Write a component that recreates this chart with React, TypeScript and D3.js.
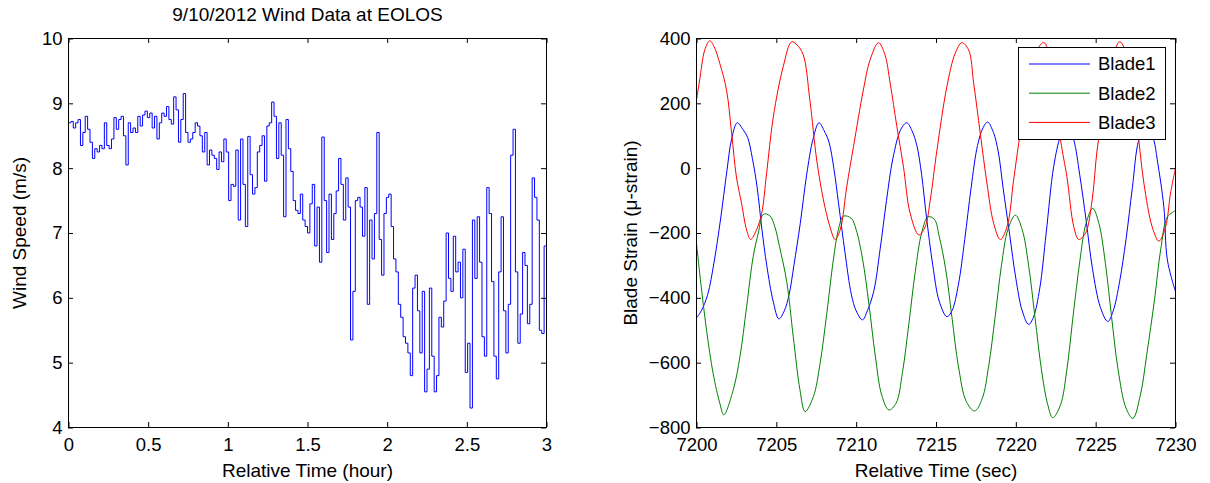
import React, { useEffect, useRef } from 'react';
import * as d3 from 'd3';

// wind speed, sampled every 0.015 hour from t = 0
const windStep = 0.015;
const windSpeed = [
  8.70, 8.72, 8.62, 8.70, 8.75, 8.35, 8.55, 8.80, 8.60, 8.40,
  8.15, 8.30, 8.25, 8.35, 8.30, 8.70, 8.35, 8.30, 8.45, 8.78,
  8.60, 8.75, 8.80, 8.50, 8.05, 8.70, 8.55, 8.62, 8.55, 8.80,
  8.65, 8.82, 8.88, 8.78, 8.85, 8.62, 8.80, 8.45, 8.70, 8.85,
  8.80, 8.95, 8.75, 8.68, 9.10, 8.90, 8.40, 8.75, 9.15, 8.55,
  8.40, 8.45, 8.55, 8.70, 8.65, 8.50, 8.25, 8.55, 8.05, 8.28,
  8.20, 8.15, 7.98, 8.25, 8.10, 8.45, 8.25, 7.50, 7.75, 7.72,
  8.28, 7.20, 8.45, 7.75, 7.10, 8.49, 7.90, 7.60, 7.70, 8.25,
  8.35, 8.50, 7.80, 8.65, 8.70, 9.02, 8.80, 8.15, 8.70, 8.20,
  7.25, 8.75, 8.30, 7.95, 7.50, 7.35, 7.30, 7.60, 7.20,
  7.10, 7.00, 7.45, 7.75, 6.80, 7.40, 6.55, 8.48, 7.50, 6.70,
  7.60, 6.90, 7.30, 7.65, 8.15, 7.75, 7.20, 7.85, 7.40, 5.35,
  6.10, 7.50, 7.55, 7.40, 6.95, 7.70, 5.90, 7.20, 6.60, 7.30,
  8.55, 6.90, 6.35, 7.30, 7.55, 7.60, 7.10, 6.60, 6.40, 5.90,
  5.70, 5.40, 5.30, 5.15, 4.80, 6.15, 6.35, 5.80, 5.15, 6.10,
  4.55, 4.90, 6.15, 5.10, 4.55, 4.80, 5.70, 5.55, 5.95, 7.00,
  6.30, 6.10, 6.95, 6.40, 6.55, 6.00, 6.75, 4.85, 5.30, 4.30,
  7.20, 6.30, 7.25, 6.55, 5.40, 5.10, 7.70, 7.30, 6.25, 5.10,
  4.75, 6.40, 7.25, 5.80, 5.15, 5.90, 8.20, 8.60, 6.40, 5.30,
  5.75, 6.70, 6.50, 5.60, 5.90, 7.85, 7.55, 7.20, 5.50, 5.45,
  6.80, 6.45,
];

// blade strain [sec, micro-strain]
const blade1 = [
  [7200.0, -462], [7200.3, -440], [7200.7, -390], [7201.1, -290], [7201.5, -160],
  [7201.9, -10], [7202.2, 90], [7202.55, 140], [7202.9, 120], [7203.2, 95],
  [7203.5, 30], [7203.8, -60], [7204.1, -190], [7204.4, -300], [7204.8, -410],
  [7205.16, -465], [7205.5, -440], [7205.8, -390], [7206.1, -300], [7206.5, -170],
  [7206.9, -20], [7207.3, 90], [7207.67, 140], [7208.0, 115], [7208.3, 80],
  [7208.6, 0], [7208.9, -110], [7209.3, -260], [7209.7, -390], [7210.0, -440],
  [7210.39, -468], [7210.7, -440], [7211.1, -380], [7211.5, -250], [7211.9, -100],
  [7212.3, 30], [7212.8, 120], [7213.17, 140], [7213.5, 115], [7213.8, 70],
  [7214.1, -20], [7214.4, -150], [7214.8, -300], [7215.2, -410], [7215.68, -458],
  [7216.0, -440], [7216.4, -360], [7216.8, -220], [7217.2, -60], [7217.6, 70],
  [7217.95, 125], [7218.23, 142], [7218.6, 110], [7218.9, 50], [7219.2, -60],
  [7219.6, -200], [7220.0, -340], [7220.4, -440], [7220.8, -482], [7221.1, -460],
  [7221.5, -370], [7221.9, -200], [7222.37, 5], [7222.8, 100], [7223.2, 140],
  [7223.63, 87], [7224.0, -20], [7224.4, -160], [7224.8, -310], [7225.3, -430],
  [7225.76, -473], [7226.1, -440], [7226.5, -350], [7226.9, -220], [7227.3, -60],
  [7227.7, 87], [7228.2, 140], [7228.64, 87], [7228.86, 25], [7229.27, -119],
  [7229.49, -283], [7230.0, -381],
];

const blade2 = [
  [7200.0, -232], [7200.2, -324], [7200.63, -500], [7201.04, -633], [7201.46, -725],
  [7201.71, -761], [7202.3, -684], [7202.72, -582], [7203.14, -427], [7203.55, -273],
  [7203.87, -200], [7204.2, -142], [7204.6, -147], [7204.9, -180], [7205.2, -242],
  [7205.65, -350], [7206.06, -520], [7206.48, -684], [7206.8, -751], [7207.32, -705],
  [7207.74, -602], [7208.16, -448], [7208.57, -283], [7208.88, -191], [7209.2, -148],
  [7209.7, -155], [7210.0, -190], [7210.4, -280], [7210.8, -420], [7211.2, -580],
  [7211.6, -700], [7212.05, -746], [7212.5, -725], [7212.9, -630], [7213.3, -480],
  [7213.7, -320], [7214.1, -200], [7214.5, -150], [7214.9, -158], [7215.2, -210],
  [7215.6, -310], [7216.0, -460], [7216.4, -610], [7216.9, -720], [7217.42, -749],
  [7217.9, -710], [7218.3, -610], [7218.7, -460], [7219.1, -300], [7219.5, -190],
  [7219.97, -145], [7220.4, -190], [7220.8, -300], [7221.2, -460], [7221.6, -620],
  [7222.0, -730], [7222.31, -770], [7222.8, -730], [7223.2, -620], [7223.6, -450],
  [7224.0, -290], [7224.4, -170], [7224.82, -124], [7225.2, -170], [7225.6, -290],
  [7226.0, -460], [7226.4, -620], [7226.9, -740], [7227.33, -772], [7227.8, -700],
  [7228.2, -575], [7228.7, -400], [7229.07, -252], [7229.5, -150], [7230.0, -131],
];

const blade3 = [
  [7200.0, 210], [7200.2, 272], [7200.52, 365], [7200.83, 393], [7201.1, 375],
  [7201.46, 323], [7201.88, 241], [7202.2, 108], [7202.5, -27], [7202.82, -108],
  [7203.14, -191], [7203.39, -220], [7203.76, -190], [7204.08, -140], [7204.39, -16],
  [7204.81, 158], [7205.43, 313], [7205.96, 390], [7206.3, 380], [7206.69, 349],
  [7207.1, 210], [7207.53, 25], [7207.95, -98], [7208.36, -181], [7208.68, -220],
  [7209.0, -190], [7209.41, -57], [7209.83, 66], [7210.45, 241], [7210.87, 334],
  [7211.4, 387], [7211.8, 350], [7212.13, 262], [7212.55, 128], [7212.96, 5],
  [7213.38, -139], [7213.93, -206], [7214.32, -181], [7214.64, -98], [7215.06, 56],
  [7215.68, 251], [7216.2, 354], [7216.62, 387], [7217.04, 365], [7217.36, 262],
  [7217.77, 108], [7218.19, -46], [7218.61, -170], [7219.03, -220], [7219.45, -181],
  [7219.86, -37], [7220.18, 77], [7220.7, 250], [7221.2, 350], [7221.74, 388],
  [7222.2, 330], [7222.8, 87], [7223.2, -27], [7223.63, -181], [7223.94, -220],
  [7224.36, -201], [7224.78, -98], [7225.09, 56], [7225.6, 220], [7226.0, 330],
  [7226.51, 390], [7227.0, 340], [7227.4, 210], [7227.7, 87], [7228.02, -46],
  [7228.54, -181], [7228.96, -225], [7229.38, -181], [7229.69, -77], [7230.0, 0],
];

const bladeNames = ['Blade1', 'Blade2', 'Blade3'];
const bladeColors = ['#0000ff', '#008000', '#ff0000'];

const windTicksX = [0, 0.5, 1, 1.5, 2, 2.5, 3];
const windTicksY = [4, 5, 6, 7, 8, 9, 10];
const strainTicksX = [7200, 7205, 7210, 7215, 7220, 7225, 7230];
const strainTicksY = [-800, -600, -400, -200, 0, 200, 400];

const FONT = '"Liberation Sans", Arial, Helvetica, sans-serif';

// boxed MATLAB-style axes with inward ticks on all four sides
const drawFrame = (g, x, y, w, h, xTicks, yTicks) => {
  const style = sel => {
    sel.select('.domain').remove();
    sel.selectAll('line').attr('stroke', '#000');
    sel.selectAll('text')
      .attr('fill', '#000')
      .style('font-family', FONT)
      .style('font-size', '18.5px');
  };
  g.append('g').attr('transform', `translate(0,${h})`)
    .call(d3.axisBottom(x).tickValues(xTicks).tickSize(-5).tickPadding(10.5).tickFormat(d3.format('')))
    .call(style);
  g.append('g')
    .call(d3.axisTop(x).tickValues(xTicks).tickSize(-5).tickFormat(() => ''))
    .call(style);
  g.append('g')
    .call(d3.axisLeft(y).tickValues(yTicks).tickSize(-5).tickPadding(5.5).tickFormat(d3.format('')))
    .call(style);
  g.append('g').attr('transform', `translate(${w},0)`)
    .call(d3.axisRight(y).tickValues(yTicks).tickSize(-5).tickFormat(() => ''))
    .call(style);
  g.append('rect')
    .attr('x', 0.5).attr('y', 0.5)
    .attr('width', w).attr('height', h)
    .attr('fill', 'none').attr('stroke', '#000').attr('stroke-width', 1);
};

const addText = (g, txt, x, y, size, rotate = false) => {
  const t = g.append('text')
    .attr('text-anchor', 'middle')
    .style('font-family', FONT)
    .style('font-size', `${size}px`)
    .attr('fill', '#000')
    .text(txt);
  if (rotate) t.attr('transform', `translate(${x},${y}) rotate(-90)`);
  else t.attr('x', x).attr('y', y);
};

const App = () => {
  const ref = useRef(null);

  useEffect(() => {
    const svg = d3.select(ref.current);
    svg.selectAll('*').remove();

    // ---- left: wind speed ----
    const w1 = 478, h1 = 389;
    const g1 = svg.append('g').attr('transform', 'translate(68,38)');
    const x1 = d3.scaleLinear().domain([0, 3]).range([0.5, w1 + 0.5]);
    const y1 = d3.scaleLinear().domain([4, 10]).range([h1 + 0.5, 0.5]);

    g1.append('clipPath').attr('id', 'clip-wind')
      .append('rect').attr('x', 0.5).attr('y', 0.5).attr('width', w1).attr('height', h1);

    const windLine = d3.line()
      .x((d, i) => x1(i * windStep))
      .y(d => y1(d))
      .curve(d3.curveStepAfter);

    g1.append('path')
      .datum(windSpeed)
      .attr('clip-path', 'url(#clip-wind)')
      .attr('fill', 'none')
      .attr('stroke', '#0000ff')
      .attr('stroke-width', 1)
      .attr('d', windLine);

    drawFrame(g1, x1, y1, w1, h1, windTicksX, windTicksY);

    addText(svg, '9/10/2012 Wind Data at EOLOS', 307.5, 21, 19);
    addText(svg, 'Relative Time (hour)', 307.5, 477, 19);
    addText(svg, 'Wind Speed (m/s)', 26, 233, 19, true);

    // ---- right: blade strain ----
    const w2 = 479, h2 = 389;
    const g2 = svg.append('g').attr('transform', 'translate(696,38)');
    const x2 = d3.scaleLinear().domain([7200, 7230]).range([0.5, w2 + 0.5]);
    const y2 = d3.scaleLinear().domain([-800, 400]).range([h2 + 0.5, 0.5]);

    g2.append('clipPath').attr('id', 'clip-strain')
      .append('rect').attr('x', 0.5).attr('y', 0.5).attr('width', w2).attr('height', h2);

    const strainLine = d3.line()
      .x(d => x2(d[0]))
      .y(d => y2(d[1]))
      .curve(d3.curveCatmullRom.alpha(0.5));

    [blade1, blade2, blade3].forEach((series, i) => {
      g2.append('path')
        .datum(series)
        .attr('clip-path', 'url(#clip-strain)')
        .attr('fill', 'none')
        .attr('stroke', bladeColors[i])
        .attr('stroke-width', 1)
        .attr('d', strainLine);
    });

    drawFrame(g2, x2, y2, w2, h2, strainTicksX, strainTicksY);

    // legend
    const lg = g2.append('g').attr('transform', 'translate(322,9)');
    lg.append('rect')
      .attr('x', 0.5).attr('y', 0.5).attr('width', 147).attr('height', 92)
      .attr('fill', '#fff').attr('stroke', '#000');
    bladeNames.forEach((name, i) => {
      const yy = 17 + i * 29.2;
      lg.append('line')
        .attr('x1', 11).attr('x2', 72).attr('y1', yy).attr('y2', yy)
        .attr('stroke', bladeColors[i]).attr('stroke-width', 1);
      lg.append('text')
        .attr('x', 80).attr('y', yy).attr('dy', '0.35em')
        .style('font-family', FONT).style('font-size', '18.5px')
        .attr('fill', '#000')
        .text(name);
    });

    addText(svg, 'Relative Time (sec)', 936, 477, 19);
    addText(svg, 'Blade Strain (\u03bc-strain)', 637, 233, 19, true);
  }, []);

  return (
    <svg
      ref={ref}
      width={1210}
      height={483}
      style={{ position: 'absolute', left: 0, top: 0, background: '#fff' }}
    />
  );
};

export default App;
